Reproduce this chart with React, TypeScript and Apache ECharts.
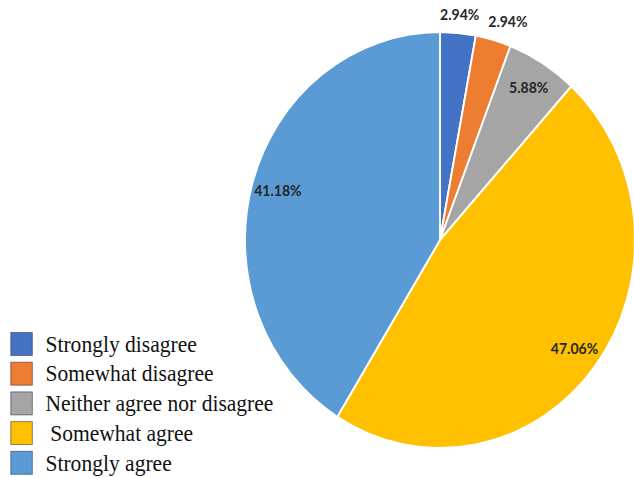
import React, { useEffect, useRef } from "react";
import * as echarts from "echarts";

const categories = [
  "Strongly disagree",
  "Somewhat disagree",
  "Neither agree nor disagree",
  "Somewhat agree",
  "Strongly agree",
];
const counts = [1, 1, 2, 16, 14];
const colors = ["#4472C4", "#ED7D31", "#A5A5A5", "#FFC000", "#5B9BD5"];

const SCALE_X = 0.9375;
const WIDTH = 634 / SCALE_X;
const HEIGHT = 478;
const CX = 440 / SCALE_X;
const CY = 240;
const R = 208;

export default function App() {
  const ref = useRef<HTMLDivElement>(null);

  useEffect(() => {
    if (!ref.current) return;
    const chart = echarts.init(ref.current, null, { renderer: "svg" });
    const total = counts.reduce((a, b) => a + b, 0);
    const isSmall = counts.map((v) => v / total < 0.04);

    const labelStyle = {
      formatter: "{d}%",
      fontFamily: "Lato",
      fontWeight: "bold",
      fontSize: 15,
      color: "#262626",
    };

    const overlayBase = {
      type: "pie",
      center: [CX, CY],
      startAngle: 90,
      silent: true,
      legendHoverLink: false,
      itemStyle: { color: "rgba(0,0,0,0)", borderWidth: 0 },
      labelLine: { show: false },
      labelLayout: { hideOverlap: false },
      emphasis: { disabled: true },
    };

    chart.setOption({
      animation: false,
      backgroundColor: "#ffffff",
      color: colors,
      legend: {
        orient: "vertical",
        left: 11,
        top: 332,
        height: 160,
        padding: 0,
        itemWidth: 23,
        itemHeight: 23,
        itemGap: 5.7,
        icon: "rect",
        selectedMode: false,
        itemStyle: { borderColor: "rgba(40,40,60,0.55)", borderWidth: 1 },
        textStyle: {
          fontFamily: "Liberation Serif",
          fontSize: 23,
          lineHeight: 23,
          color: "#111",
          padding: [0, 0, 0, 9],
        },
        data: categories.map((name) =>
          name === "Somewhat agree"
            ? { name, textStyle: { padding: [0, 0, 0, 14] } }
            : { name }
        ),
      },
      series: [
        {
          type: "pie",
          center: [CX, CY],
          radius: R,
          startAngle: 90,
          clockwise: true,
          label: { show: false },
          labelLine: { show: false },
          itemStyle: { borderColor: "#ffffff", borderWidth: 2 },
          emphasis: { scale: false },
          data: categories.map((name, i) => ({
            name,
            value: counts[i],
            itemStyle: { color: colors[i] },
          })),
        },
        {
          ...overlayBase,
          radius: [R * 0.7, R],
          data: categories.map((name, i) => ({
            name,
            value: counts[i],
            label: {
              show: !isSmall[i],
              position: "inside",
              ...labelStyle,
            },
          })),
        },
        {
          ...overlayBase,
          radius: [R + 2, R + 32],
          data: categories.map((name, i) => ({
            name,
            value: counts[i],
            label: {
              show: isSmall[i],
              position: "inside",
              offset: i === 1 ? [10, 1] : [0, 1],
              ...labelStyle,
            },
          })),
        },
      ],
    });
    return () => chart.dispose();
  }, []);

  return (
    <div
      style={{
        position: "absolute",
        left: 0,
        top: 0,
        width: 634,
        height: HEIGHT,
        overflow: "hidden",
        background: "#fff",
      }}
    >
      <div
        ref={ref}
        style={{
          width: WIDTH,
          height: HEIGHT,
          transform: `scaleX(${SCALE_X})`,
          transformOrigin: "0 0",
        }}
      />
    </div>
  );
}
